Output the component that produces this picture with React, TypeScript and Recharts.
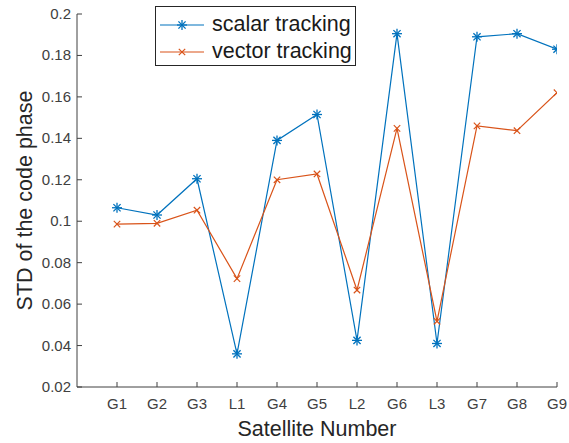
import React from 'react';
import { LineChart, Line, XAxis, YAxis, Legend } from 'recharts';

const categories = ['G1', 'G2', 'G3', 'L1', 'G4', 'G5', 'L2', 'G6', 'L3', 'G7', 'G8', 'G9'];
const scalarTracking = [0.1065, 0.1030, 0.1205, 0.0360, 0.1390, 0.1515, 0.0425, 0.1905, 0.0410, 0.1890, 0.1905, 0.1830];
const vectorTracking = [0.0986, 0.0990, 0.1053, 0.0723, 0.1200, 0.1228, 0.0668, 0.1448, 0.0517, 0.1460, 0.1437, 0.1620];
const yTicks = [0.02, 0.04, 0.06, 0.08, 0.1, 0.12, 0.14, 0.16, 0.18, 0.2];
const xTicks = categories.map((_, i) => i + 1);

const data = categories.map((c, i) => ({
  idx: i + 1,
  name: c,
  scalar: scalarTracking[i],
  vector: vectorTracking[i],
}));

const BLUE = '#0072BD';
const ORANGE = '#D95319';
const AXIS = '#404040';
const FONT = '"Liberation Sans", Arial, Helvetica, sans-serif';

const StarDot = (props: any) => {
  const { cx, cy } = props;
  if (cx == null || cy == null) return null;
  const r = 5;
  const d = r * 0.72;
  return (
    <g stroke={BLUE} strokeWidth={1.3}>
      <line x1={cx - r} y1={cy} x2={cx + r} y2={cy} />
      <line x1={cx} y1={cy - r} x2={cx} y2={cy + r} />
      <line x1={cx - d} y1={cy - d} x2={cx + d} y2={cy + d} />
      <line x1={cx - d} y1={cy + d} x2={cx + d} y2={cy - d} />
    </g>
  );
};

const CrossDot = (props: any) => {
  const { cx, cy } = props;
  if (cx == null || cy == null) return null;
  const d = 3.2;
  return (
    <g stroke={ORANGE} strokeWidth={1.2}>
      <line x1={cx - d} y1={cy - d} x2={cx + d} y2={cy + d} />
      <line x1={cx - d} y1={cy + d} x2={cx + d} y2={cy - d} />
    </g>
  );
};

const XTick = (props: any) => {
  const { x, y, payload } = props;
  return (
    <g>
      <line x1={x} y1={y} x2={x} y2={y - 5} stroke={AXIS} strokeWidth={1} />
      <text x={x} y={y + 22} textAnchor="middle" fill={AXIS} fontSize={15} fontFamily={FONT}>
        {categories[payload.value - 1]}
      </text>
    </g>
  );
};

const YTick = (props: any) => {
  const { x, y, payload } = props;
  return (
    <g>
      <line x1={x} y1={y} x2={x + 5} y2={y} stroke={AXIS} strokeWidth={1} />
      <text x={x - 6} y={y + 5} textAnchor="end" fill={AXIS} fontSize={15} fontFamily={FONT}>
        {String(+Number(payload.value).toFixed(2))}
      </text>
    </g>
  );
};

const LegendContent = () => {
  const rows = [
    { label: 'scalar tracking', color: BLUE, star: true },
    { label: 'vector tracking', color: ORANGE, star: false },
  ];
  return (
    <div
      style={{
        border: '1px solid #262626',
        background: '#fff',
        width: 201,
        height: 60,
        boxSizing: 'border-box',
        paddingTop: 4,
        fontFamily: FONT,
      }}
    >
      {rows.map((r) => (
        <div key={r.label} style={{ display: 'flex', alignItems: 'center', height: 27 }}>
          <svg width={52} height={20} style={{ marginLeft: 4, flex: 'none' }}>
            <line x1={0} y1={10} x2={44} y2={10} stroke={r.color} strokeWidth={1.2} />
            {r.star ? <StarDot cx={22} cy={10} /> : <CrossDot cx={22} cy={10} />}
          </svg>
          <span style={{ fontSize: 21.5, color: '#1a1a1a', whiteSpace: 'nowrap', lineHeight: '27px' }}>
            {r.label}
          </span>
        </div>
      ))}
    </div>
  );
};

const YLabel = (props: any) => {
  const { viewBox } = props;
  const cy = viewBox.y + viewBox.height / 2;
  return (
    <text
      x={32}
      y={cy}
      transform={`rotate(-90, 32, ${cy})`}
      textAnchor="middle"
      fill="#262626"
      fontSize={21.5}
      fontFamily={FONT}
    >
      STD of the code phase
    </text>
  );
};

const XLabel = (props: any) => {
  const { viewBox } = props;
  const cx = viewBox.x + viewBox.width / 2;
  return (
    <text x={cx} y={436} textAnchor="middle" fill="#262626" fontSize={21.5} fontFamily={FONT}>
      Satellite Number
    </text>
  );
};

export default function App() {
  return (
    <div style={{ position: 'absolute', left: 0, top: 0, background: '#fff' }}>
      <LineChart
        width={569}
        height={443}
        data={data}
        margin={{ top: 14, right: 12, bottom: 0, left: 0 }}
      >
        <XAxis
          dataKey="idx"
          type="number"
          domain={[0, 12]}
          ticks={xTicks}
          allowDataOverflow
          axisLine={{ stroke: AXIS, strokeWidth: 1 }}
          tickLine={false}
          tickSize={0}
          tickMargin={0}
          tick={<XTick />}
          interval={0}
          height={56}
          label={<XLabel />}
        />
        <YAxis
          type="number"
          domain={[0.02, 0.2]}
          ticks={yTicks}
          allowDataOverflow
          axisLine={{ stroke: AXIS, strokeWidth: 1 }}
          tickLine={false}
          tickSize={0}
          tickMargin={0}
          tick={<YTick />}
          interval={0}
          width={77}
          label={<YLabel />}
        />
        <Legend
          layout="horizontal"
          verticalAlign="middle"
          align="center"
          content={<LegendContent />}
          wrapperStyle={{ position: 'absolute', left: 155, top: 6, width: 201, height: 60 }}
        />
        <Line
          type="linear"
          dataKey="scalar"
          stroke={BLUE}
          strokeWidth={1.2}
          dot={<StarDot />}
          activeDot={false}
          isAnimationActive={false}
        />
        <Line
          type="linear"
          dataKey="vector"
          stroke={ORANGE}
          strokeWidth={1.2}
          dot={<CrossDot />}
          activeDot={false}
          isAnimationActive={false}
        />
      </LineChart>
    </div>
  );
}
